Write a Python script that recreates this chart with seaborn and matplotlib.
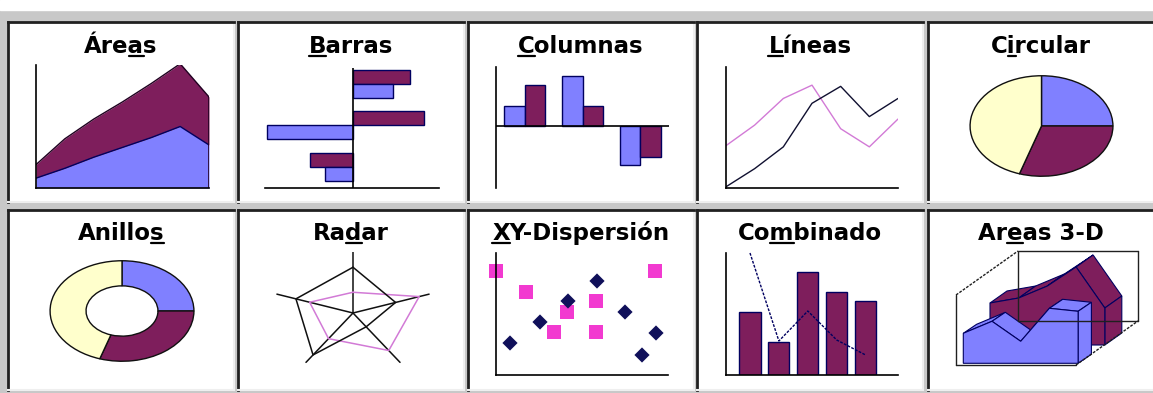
import numpy as np
import pandas as pd
import seaborn as sns
import matplotlib.pyplot as plt
from matplotlib.lines import Line2D
from matplotlib.patches import Rectangle
from matplotlib.font_manager import FontProperties

sns.set_style('white')
plt.rcParams['font.family'] = ['DejaVu Sans']

W, H = 1153, 393

BLUE = '#8080ff'
PURPLE = '#7e1e5c'
IVORY = '#ffffcc'
NAVY = '#000060'
PINK = '#f23ad0'

# ---- data ----
titles = ['Áreas', 'Barras', 'Columnas', 'Líneas', 'Circular',
          'Anillos', 'Radar', 'XY-Dispersión', 'Combinado', 'Areas 3-D']
hotkeys = [3, 0, 0, 0, 1, 6, 2, 0, 2, 2]

area_x = [0, 1, 2, 3, 4, 5, 6]
area_lower = [8, 16, 25, 33, 41, 50, 35]
area_upper = [11, 24, 31, 37, 44, 51, 39]

bar_cats = ['c', 'b', 'a']
bar_purple = [57, 71, -43]
bar_blue = [40, -86, -28]

col_cats = ['a', 'b', 'c']
col_blue = [20, 50, -39]
col_purple = [41, 20, -31]

line_x = [0, 1, 2, 3, 4, 5, 6]
line_dark = [1, 16, 34, 70, 84, 59, 74]
line_pink = [35, 52, 74, 85, 49, 34, 57]

pie_vals = [25, 30, 45]

radar_dark = [0.75, 0.56, 0.28, 0.85, 0.75]
radar_pink = [0.34, 0.87, 0.76, 0.52, 0.57]

sc_pink_x = [0, 30, 71, 100, 58, 100, 159]
sc_pink_y = [104, 83, 63, 74, 43, 43, 104]
sc_navy_x = [14, 44, 72, 101, 129, 146, 160]
sc_navy_y = [32, 53, 74, 94, 63, 20, 42]

combo_cats = ['1', '2', '3', '4', '5']
combo_bars = [63, 33, 103, 83, 74]
combo_line = [122, 34, 64, 35, 20]

a3d_blue = [30, 42, 22, 55, 52]
a3d_purple = [42, 47, 59, 78, 37]


fig = plt.figure(figsize=(W / 100, H / 100), dpi=100, facecolor='#c8c8c8')
fig.patches.append(Rectangle((0, 1 - 10 / H), 1, 10 / H, transform=fig.transFigure,
                             color='white', zorder=0))


def px_axes(x0, y0, x1, y1, **kw):
    return fig.add_axes([x0 / W, 1 - y1 / H, (x1 - x0) / W, (y1 - y0) / H], **kw)


def clean(ax, left=True, bottom=True):
    ax.set_xticks([])
    ax.set_yticks([])
    ax.set_xlabel('')
    ax.set_ylabel('')
    ax.set_facecolor('none')
    for side, sp in ax.spines.items():
        sp.set_color('black')
        sp.set_linewidth(1.2)
        sp.set_visible((side == 'left' and left) or (side == 'bottom' and bottom))


# ---- cells and titles ----
col_left = [8, 238, 468, 697, 928]
row_top = [22, 210]
cell_w, cell_h = 226, 180
title_base = [53, 240]
fsize = 16.5
prop = FontProperties(family='DejaVu Sans', weight='bold', size=fsize)
renderer = fig.canvas.get_renderer()


def text_w(s):
    if not s:
        return 0.0
    return renderer.get_text_width_height_descent(s, prop, ismath=False)[0]


for k, title in enumerate(titles):
    r, c = divmod(k, 5)
    x0, y0 = col_left[c], row_top[r]
    bg = px_axes(x0, y0, x0 + cell_w, y0 + cell_h)
    bg.set_xticks([])
    bg.set_yticks([])
    bg.set_facecolor('white')
    for side, sp in bg.spines.items():
        if side in ('left', 'top'):
            sp.set_color('#202020')
            sp.set_linewidth(2)
        else:
            sp.set_color('#efefef')
            sp.set_linewidth(1.5)
    cx = x0 + cell_w / 2
    base = title_base[r]
    fig.text(cx / W, 1 - base / H, title, ha='center', va='baseline',
             fontsize=fsize, fontweight='bold', color='black')
    # underlined access key
    i = hotkeys[k]
    start = cx - text_w(title) / 2
    u0 = start + text_w(title[:i])
    u1 = start + text_w(title[:i + 1])
    uy = base + 3
    fig.add_artist(Line2D([u0 / W, u1 / W], [1 - uy / H, 1 - uy / H],
                          transform=fig.transFigure, color='black', lw=1.6))

# ---- Áreas ----
ax = px_axes(36, 65, 209, 188)
lower = np.array(area_lower)
top = lower + np.array(area_upper)
ax.fill_between(area_x, 0, lower, color=BLUE, lw=0)
ax.fill_between(area_x, lower, top, color=PURPLE, lw=0)
sns.lineplot(x=area_x, y=lower, ax=ax, color=NAVY, lw=1)
sns.lineplot(x=area_x, y=top, ax=ax, color='#200020', lw=1)
ax.vlines(area_x[-1], 0, top[-1], color='#200020', lw=1.2)
ax.set_xlim(0, 6)
ax.set_ylim(0, 100)
clean(ax)

# ---- Barras ----
ax = px_axes(265, 68, 439, 188)
df = pd.DataFrame({'cat': bar_cats * 2, 'val': bar_purple + bar_blue,
                   'series': ['p'] * 3 + ['b'] * 3})
sns.barplot(data=df, x='val', y='cat', hue='series', order=bar_cats,
            hue_order=['p', 'b'], palette={'p': PURPLE, 'b': BLUE}, orient='h',
            width=0.68, saturation=1, edgecolor=NAVY, linewidth=1,
            legend=False, ax=ax)
ax.axvline(0, color='black', lw=1.2)
ax.set_xlim(-88, 86)
ax.set_ylim(2.52, -0.39)
clean(ax, left=False, bottom=True)

# ---- Columnas ----
ax = px_axes(496, 67, 669, 188)
df = pd.DataFrame({'cat': col_cats * 2, 'val': col_blue + col_purple,
                   'series': ['b'] * 3 + ['p'] * 3})
sns.barplot(data=df, x='cat', y='val', hue='series', order=col_cats,
            hue_order=['b', 'p'], palette={'p': PURPLE, 'b': BLUE},
            width=0.71, saturation=1, edgecolor=NAVY, linewidth=1,
            legend=False, ax=ax)
ax.axhline(0, color='black', lw=1.2)
ax.set_xlim(-0.5, 2.5)
ax.set_ylim(-62, 59)
clean(ax, left=True, bottom=False)

# ---- Líneas ----
ax = px_axes(726, 67, 898, 188)
sns.lineplot(x=line_x, y=line_pink, ax=ax, color='#d27ad6', lw=1)
sns.lineplot(x=line_x, y=line_dark, ax=ax, color='#101030', lw=1)
ax.set_xlim(0, 6)
ax.set_ylim(0, 100)
clean(ax)

# ---- Circular / Anillos ----
for box, ring in [((969, 75, 1114, 177), None), ((49, 260, 195, 362), 0.5)]:
    ax = px_axes(*box)
    wp = dict(edgecolor='#101010', linewidth=1)
    if ring:
        wp['width'] = ring
    ax.pie(pie_vals, colors=[BLUE, PURPLE, IVORY], startangle=90,
           counterclock=False, wedgeprops=wp)
    ax.set_aspect('auto')
    ax.set_xlim(-1.015, 1.015)
    ax.set_ylim(-1.015, 1.015)
    clean(ax, False, False)

# ---- Radar ----
ax = px_axes(273, 252, 433, 374)
theta = np.deg2rad(np.arange(5) * 72)
for t in theta:
    ax.plot([0, np.sin(t)], [0, np.cos(t)], color='#101010', lw=1.1)
for vals, colr in [(radar_pink, '#d27ad6'), (radar_dark, '#101010')]:
    rr = np.r_[vals, vals[0]]
    tt = np.r_[theta, theta[0]]
    sns.lineplot(x=rr * np.sin(tt), y=rr * np.cos(tt), sort=False,
                 estimator=None, color=colr, lw=1.1, ax=ax)
ax.set_xlim(-1, 1)
ax.set_ylim(-1, 1)
clean(ax, False, False)

# ---- XY-Dispersión ----
ax = px_axes(496, 253, 668, 375)
sns.scatterplot(x=sc_pink_x, y=sc_pink_y, marker='s', s=90, color=PINK,
                edgecolor='none', clip_on=False, ax=ax)
sns.scatterplot(x=sc_navy_x, y=sc_navy_y, marker='D', s=60, color='#10105a',
                edgecolor='none', clip_on=False, ax=ax)
ax.set_xlim(0, 172)
ax.set_ylim(0, 122)
clean(ax)

# ---- Combinado ----
ax = px_axes(726, 253, 898, 375)
sns.barplot(x=combo_cats, y=combo_bars, color=PURPLE, saturation=1, width=0.73,
            edgecolor=NAVY, linewidth=1, ax=ax)
sns.lineplot(x=np.arange(len(combo_line)), y=combo_line, color=NAVY, lw=1,
             linestyle=(0, (2, 1)), clip_on=False, ax=ax)
ax.set_xlim(-0.83, 5.12)
ax.set_ylim(0, 122)
clean(ax)

# ---- Areas 3-D (oblique projection) ----
ax = px_axes(950, 245, 1140, 375)
fl, fr, dep, wall = (6, 120), (126, 120), (62, -44), 70
solid = [
    [fl, (fl[0], fl[1] - wall)],
    [(fl[0] + dep[0], fl[1] - wall + dep[1]), (fr[0] + dep[0], fr[1] - wall + dep[1])],
    [(fr[0] + dep[0], fr[1] - wall + dep[1]), (fr[0] + dep[0], fr[1] + dep[1])],
    [(fl[0] + dep[0], fl[1] - wall + dep[1]), (fl[0] + dep[0], fl[1] + dep[1])],
    [(fl[0] + dep[0], fl[1] + dep[1]), (fr[0] + dep[0], fr[1] + dep[1])],
    [fl, fr],
]
dashed = [
    [(fl[0], fl[1] - wall), (fl[0] + dep[0], fl[1] - wall + dep[1])],
    [fr, (fr[0] + dep[0], fr[1] + dep[1])],
]
for (xa, ya), (xb, yb) in solid:
    ax.plot([xa, xb], [ya, yb], color='#202020', lw=1)
for (xa, ya), (xb, yb) in dashed:
    ax.plot([xa, xb], [ya, yb], color='#202020', lw=1, ls=(0, (2, 1)))


def draw_series(vals, ox, oy, step, depth, color):
    vals = np.asarray(vals, dtype=float)
    xs = ox + step * np.arange(len(vals))
    ys = oy - vals
    tx, ty = depth
    for i in range(len(vals) - 1):
        ax.fill([xs[i], xs[i + 1], xs[i + 1] + tx, xs[i] + tx],
                [ys[i], ys[i + 1], ys[i + 1] + ty, ys[i] + ty],
                facecolor=color, edgecolor=NAVY, lw=0.8)
    ax.fill([xs[-1], xs[-1] + tx, xs[-1] + tx, xs[-1]],
            [ys[-1], ys[-1] + ty, oy + ty, oy],
            facecolor=color, edgecolor=NAVY, lw=0.8)
    ax.fill(np.r_[xs[0], xs, xs[-1]], np.r_[oy, ys, oy],
            facecolor=color, edgecolor=NAVY, lw=0.8)


draw_series(a3d_purple, 40, 100, 28.7, (17, -12), PURPLE)
draw_series(a3d_blue, 13.3, 118.3, 28.7, (13.3, -9), BLUE)
ax.set_xlim(0, 190)
ax.set_ylim(130, 0)
clean(ax, False, False)

fig.savefig('out.png', dpi=100, facecolor=fig.get_facecolor())
